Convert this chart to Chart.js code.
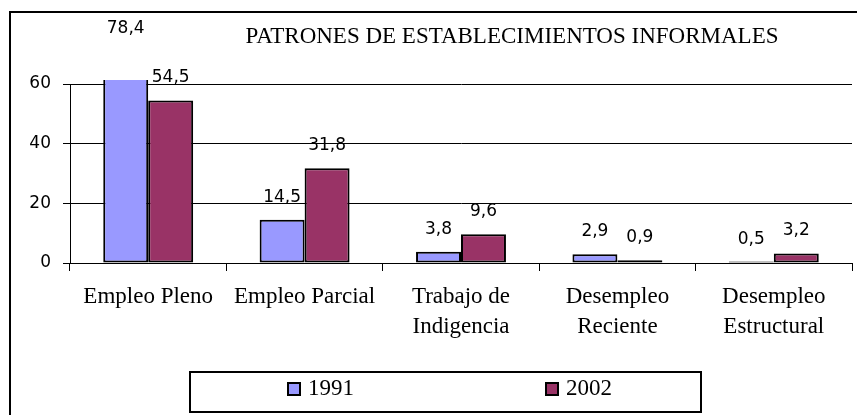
<!DOCTYPE html>
<html><head><meta charset="utf-8">
<script src="https://cdn.jsdelivr.net/npm/chart.js@4/dist/chart.umd.min.js"></script>
<style>html,body{margin:0;padding:0;background:#fff}#wrap{width:857px;height:415px}</style>
</head><body><div id="wrap"><canvas id="c" width="857" height="415"></canvas></div>
<script>
const chartTitle = 'PATRONES DE ESTABLECIMIENTOS INFORMALES';
const categories = [['Empleo Pleno'], ['Empleo Parcial'], ['Trabajo de', 'Indigencia'], ['Desempleo', 'Reciente'], ['Desempleo', 'Estructural']];
const seriesNames = ['1991', '2002'];
const values1991 = [78.4, 14.5, 3.8, 2.9, 0.5];
const values2002 = [54.5, 31.8, 9.6, 0.9, 3.2];
const yMin = 0, yMax = 60, yStep = 20;

const SERIF = '"Liberation Serif", "Times New Roman", serif';
const SANS = '"DejaVu Sans", sans-serif';

function fmt(v) { return v.toFixed(1).replace('.', ','); }

const decor = {
  id: 'decor',
  beforeDraw(chart) {
    const ctx = chart.ctx;
    ctx.save();
    ctx.fillStyle = '#fff';
    ctx.fillRect(0, 0, chart.width, chart.height);
    ctx.strokeStyle = '#000';
    ctx.lineWidth = 2;
    ctx.strokeRect(10, 12, chart.width + 20, chart.height + 20);
    ctx.restore();
  },
  afterDatasetsDraw(chart) {
    const ctx = chart.ctx;
    const y = chart.scales.y;
    ctx.save();
    ctx.fillStyle = '#000';
    ctx.font = '17px ' + SANS;
    ctx.textAlign = 'center';
    chart.data.datasets.forEach((ds, di) => {
      const meta = chart.getDatasetMeta(di);
      meta.data.forEach((el, i) => {
        const v = ds.data[i];
        const top = y.getPixelForValue(v);
        if (v > y.max) {
          ctx.textBaseline = 'middle';
          ctx.fillText(fmt(v), el.x, top - 1);
        } else {
          ctx.textBaseline = 'alphabetic';
          ctx.fillText(fmt(v), el.x, top - 18);
        }
      });
    });
    ctx.restore();
  },
  afterDraw(chart) {
    const ctx = chart.ctx;
    ctx.save();
    ctx.fillStyle = '#000';
    ctx.font = '23px ' + SERIF;
    ctx.textAlign = 'center';
    ctx.textBaseline = 'middle';
    ctx.fillText(chartTitle, 512, 37);
    // legend
    ctx.strokeStyle = '#000';
    ctx.lineWidth = 2;
    ctx.strokeRect(190, 372, 511, 40);
    const markerX = [288, 546];
    chart.data.datasets.forEach((ds, di) => {
      const mx = markerX[di];
      ctx.fillStyle = ds.backgroundColor;
      ctx.fillRect(mx, 383, 12, 12);
      ctx.lineWidth = 2;
      ctx.strokeStyle = '#000';
      ctx.strokeRect(mx, 383, 12, 12);
      ctx.fillStyle = '#000';
      ctx.font = '23px ' + SERIF;
      ctx.textAlign = 'left';
      ctx.textBaseline = 'middle';
      ctx.fillText(ds.label, mx + 20, 389);
    });
    ctx.restore();
  }
};

new Chart(document.getElementById('c'), {
  type: 'bar',
  data: {
    labels: categories,
    datasets: [
      { label: seriesNames[0], data: values1991, backgroundColor: '#9999ff', borderColor: '#000', borderWidth: 2, borderSkipped: false, clip: { left: 0, top: 4, right: 0, bottom: 0 } },
      { label: seriesNames[1], data: values2002, backgroundColor: '#993366', borderColor: '#000', borderWidth: 2, borderSkipped: false, clip: { left: 0, top: 4, right: 0, bottom: 0 } }
    ]
  },
  options: {
    responsive: false,
    animation: false,
    devicePixelRatio: 1,
    layout: { padding: { top: 84, right: 5, left: 0, bottom: 70 } },
    datasets: { bar: { categoryPercentage: 0.575, barPercentage: 1.0 } },
    plugins: { legend: { display: false }, title: { display: false }, tooltip: { enabled: false } },
    scales: {
      x: {
        grid: { display: true, drawOnChartArea: false, color: '#000', lineWidth: 1, tickLength: 8, offset: true },
        border: { display: true, color: '#000', width: 1 },
        ticks: { color: '#000', font: { family: SERIF, size: 23, lineHeight: 1.3 }, padding: 11, maxRotation: 0, minRotation: 0, autoSkip: false },
        afterFit(s) { s.height = 82; }
      },
      y: {
        min: yMin, max: yMax,
        grid: { color: '#000', lineWidth: 1, tickLength: 7 },
        border: { display: true, color: '#000', width: 1 },
        ticks: { stepSize: yStep, color: '#000', font: { family: SANS, size: 17 }, padding: 12 },
        afterFit(s) { s.width = 70; }
      }
    }
  },
  plugins: [decor]
});
</script>
</body></html>
